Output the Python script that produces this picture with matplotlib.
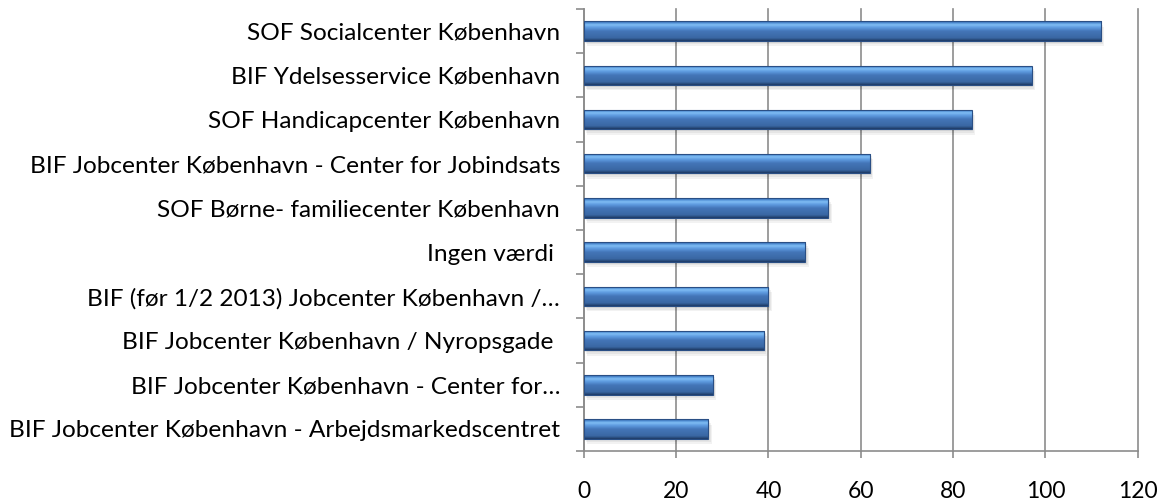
import matplotlib
matplotlib.use("Agg")
import matplotlib.pyplot as plt
import numpy as np
from matplotlib.colors import LinearSegmentedColormap
from matplotlib.patches import Rectangle

categories = [
    "SOF Socialcenter København",
    "BIF Ydelsesservice København",
    "SOF Handicapcenter København",
    "BIF Jobcenter København - Center for Jobindsats",
    "SOF Børne- familiecenter København",
    "Ingen værdi ",
    "BIF (før 1/2 2013) Jobcenter København /…",
    "BIF Jobcenter København / Nyropsgade ",
    "BIF Jobcenter København - Center for…",
    "BIF Jobcenter København - Arbejdsmarkedscentret",
]
values = [112, 97, 84, 62, 53, 48, 40, 39, 28, 27]
xticks = [0, 20, 40, 60, 80, 100, 120]

plt.rcParams['font.family'] = ['Lato', 'DejaVu Sans']

fig = plt.figure(figsize=(11.63, 5.04), dpi=100)
ax = fig.add_axes([0.502, 0.105, 0.4763, 0.877])

n = len(categories)
ypos = np.arange(n)[::-1]
bh = 0.44

grad = LinearSegmentedColormap.from_list(
    "bev", [(0.0, "#2a5590"), (0.07, "#4a88d0"), (0.18, "#80bdf4"),
            (0.32, "#5e9be0"), (0.5, "#4476b8"), (0.85, "#3a67a3"),
            (1.0, "#1e3a64")])
g = np.linspace(0, 1, 64).reshape(-1, 1)

for y, v in zip(ypos, values):
    # soft shadow
    for k, a in enumerate([0.05, 0.05, 0.05]):
        d = 0.04 * (k + 1)
        ax.add_patch(Rectangle((0.2 + d * 4, y - bh / 2 - d), v, bh, facecolor="#000000",
                               alpha=a, edgecolor="none", zorder=2))
    im = ax.imshow(g, cmap=grad, aspect="auto",
                   extent=(0, v, y - bh / 2, y + bh / 2), origin="upper", zorder=3)
    r = Rectangle((0, y - bh / 2), v, bh, facecolor="none", edgecolor="#2a4f85",
                  lw=0.8, zorder=4)
    ax.add_patch(r)
    im.set_clip_path(r)

ax.set_xlim(0, 120)
ax.set_ylim(-0.5, n - 0.5)
ax.set_xticks(xticks)
ax.set_xticklabels([str(t) for t in xticks], fontsize=16.5, color="#000000")
ax.set_yticks(ypos)
ax.set_yticklabels(categories, fontsize=17.6, color="#000000")
ax.set_yticks(np.arange(n + 1) - 0.5, minor=True)

ax.grid(axis="x", color="#8c8c8c", lw=1.2, zorder=0)
for gl in ax.get_xgridlines():
    gl.set_clip_on(False)
ax.set_axisbelow(True)
for s in ["top", "right"]:
    ax.spines[s].set_visible(False)
for s in ["left", "bottom"]:
    ax.spines[s].set_color("#8c8c8c")
    ax.spines[s].set_linewidth(1.2)

ax.tick_params(axis="y", which="major", length=0, pad=17)
ax.tick_params(axis="y", which="minor", length=5.8, color="#8c8c8c", width=1.2)
ax.tick_params(axis="x", which="major", length=5, color="#8c8c8c", width=1.2, pad=16.5)

fig.savefig("out.png", dpi=100)
